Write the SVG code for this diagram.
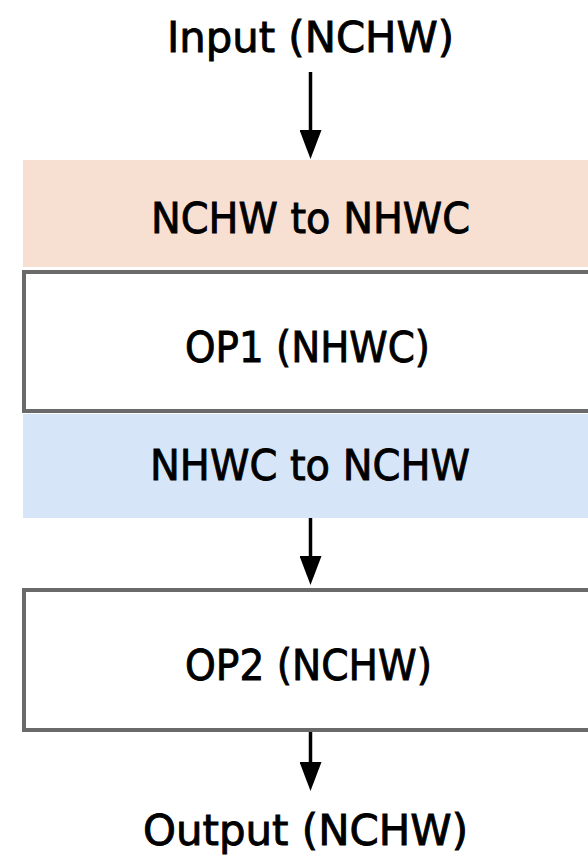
<svg xmlns="http://www.w3.org/2000/svg" width="588" height="858" viewBox="0 0 588 858">
  <style>
    .lbl { font-family: "DejaVu Sans", "Liberation Sans", sans-serif; font-size: 42px; fill: #000; stroke: #000; stroke-width: 0.9; }
    .op { fill: #ffffff; stroke: #6a6a6a; stroke-width: 4; }
    .conv-a { fill: #f7dfd2; }
    .conv-b { fill: #d6e6f8; }
    .edge { stroke: #000; stroke-width: 3.5; fill: none; marker-end: url(#head); }
  </style>
  <defs>
    <marker id="head" markerUnits="userSpaceOnUse" viewBox="0 0 29 22" refX="4" refY="11" markerWidth="29" markerHeight="22" orient="auto">
      <path d="M0,0 L29,11 L0,22 Z" fill="#000"/>
    </marker>
  </defs>

  <g id="input">
    <text class="lbl" x="167" y="52" textLength="287" lengthAdjust="spacingAndGlyphs">Input (NCHW)</text>
  </g>

  <g id="nchw-to-nhwc">
    <rect class="conv-a" x="23" y="160" width="570" height="107"/>
    <text class="lbl" x="151" y="233" textLength="319" lengthAdjust="spacingAndGlyphs">NCHW to NHWC</text>
  </g>

  <g id="op1">
    <rect class="op" x="24" y="272" width="600" height="139"/>
    <text class="lbl" x="185" y="362" textLength="245" lengthAdjust="spacingAndGlyphs">OP1 (NHWC)</text>
  </g>

  <g id="nhwc-to-nchw">
    <rect class="conv-b" x="23" y="414" width="570" height="104"/>
    <text class="lbl" x="150" y="480" textLength="320" lengthAdjust="spacingAndGlyphs">NHWC to NCHW</text>
  </g>

  <g id="op2">
    <rect class="op" x="24" y="590" width="600" height="140"/>
    <text class="lbl" x="185" y="680" textLength="247" lengthAdjust="spacingAndGlyphs">OP2 (NCHW)</text>
  </g>

  <g id="output">
    <text class="lbl" x="143" y="845" textLength="325" lengthAdjust="spacingAndGlyphs">Output (NCHW)</text>
  </g>

  <g id="connectors">
    <line class="edge" x1="310.5" y1="72" x2="310.5" y2="134"/>
    <line class="edge" x1="310.5" y1="518" x2="310.5" y2="560"/>
    <line class="edge" x1="310.5" y1="732" x2="310.5" y2="766"/>
  </g>
</svg>
